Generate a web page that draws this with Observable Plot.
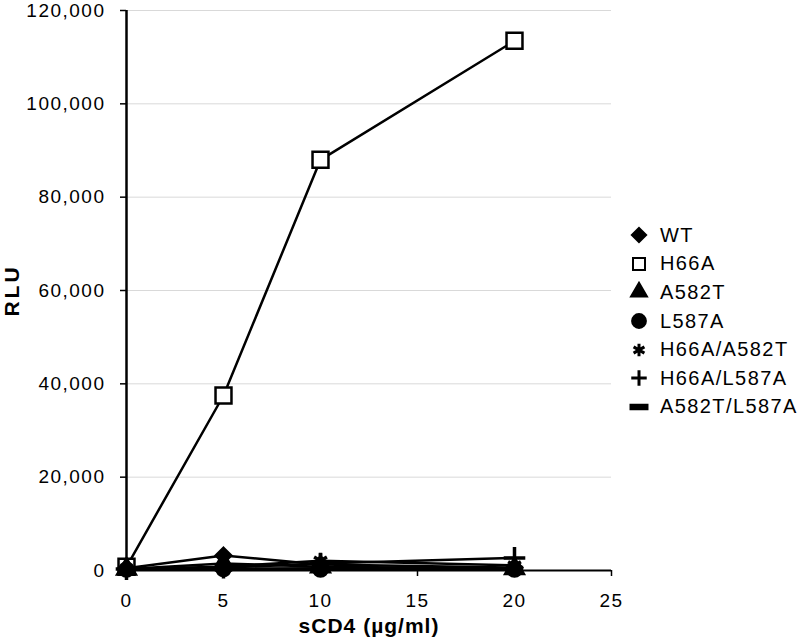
<!DOCTYPE html>
<html><head><meta charset="utf-8">
<script src="https://cdn.jsdelivr.net/npm/d3@7"></script>
<script src="https://cdn.jsdelivr.net/npm/@observablehq/plot@0.6"></script>
<style>
body{margin:0;background:#fff;font-family:"Liberation Sans",Arial,sans-serif;}
#wrap{position:relative;width:800px;height:641px;}
#legend{position:absolute;left:628px;top:221px;font-size:20px;letter-spacing:1.4px;color:#000;}
#legend .row{height:28.6px;display:flex;align-items:center;}
#legend svg{margin-right:10px;}
.tl text{letter-spacing:1.5px;}
.ttl text{letter-spacing:1px;}
.rlu text{letter-spacing:3px;}
</style></head>
<body><div id="wrap"><div id="chart"></div><div id="legend"></div></div>
<script>
const doses = [0, 5, 10, 20];
const seriesNames = ["WT","H66A","A582T","L587A","H66A/A582T","H66A/L587A","A582T/L587A"];
const WT = [500, 3200, 1300, 600];
const H66A = [800, 37500, 88000, 113500];
const A582T = [300, 1500, 800, 400];
const L587A = [200, 300, 200, 200];
const H66A_A582T = [400, 800, 2100, 1100];
const H66A_L587A = [300, 600, 1500, 2700];
const A582T_L587A = [200, 400, 500, 300];
const yTicks = [0, 20000, 40000, 60000, 80000, 100000, 120000];
const xTicks = [0, 5, 10, 15, 20, 25];

const valuesBySeries = [WT, H66A, A582T, L587A, H66A_A582T, H66A_L587A, A582T_L587A];
const data = seriesNames.flatMap((s, i) => doses.map((d, j) => ({series: s, dose: d, rlu: valuesBySeries[i][j]})));

const dash = {draw(ctx, size){ const w = Math.sqrt(size)*0.6, h = Math.sqrt(size)*0.16; ctx.rect(-w, -h, 2*w, 2*h); }};
const symbolSpec = {
  "WT": {symbol: "diamond2", fill: "black", stroke: "black", r: 7, ls: 130, sw: 2},
  "H66A": {symbol: "square", fill: "white", stroke: "black", r: 9, ls: 144, sw: 2},
  "A582T": {symbol: "triangle", fill: "black", stroke: "black", r: 7, ls: 110, sw: 2},
  "L587A": {symbol: "circle", fill: "black", stroke: "black", r: 7, ls: 150, sw: 2},
  "H66A/A582T": {symbol: "asterisk", fill: "none", stroke: "black", r: 7, ls: 110, sw: 3},
  "H66A/L587A": {symbol: "plus", fill: "none", stroke: "black", r: 7, ls: 80, sw: 3},
  "A582T/L587A": {symbol: dash, fill: "black", stroke: "black", r: 7, ls: 200, sw: 2}
};
const fmt = d3.format(",");

const dotMarks = seriesNames.map(s => Plot.dot(data.filter(d => d.series === s), {
  x: "dose", y: "rlu", symbol: () => symbolSpec[s].symbol, r: symbolSpec[s].r,
  fill: symbolSpec[s].fill, stroke: symbolSpec[s].stroke, strokeWidth: symbolSpec[s].sw + 0.5
}));

const chart = Plot.plot({
  width: 800, height: 641,
  marginLeft: 126, marginRight: 189, marginTop: 10, marginBottom: 71,
  style: {fontFamily: "'Liberation Sans', Arial, sans-serif", fontSize: "19px", background: "white"},
  x: {domain: [0, 25], ticks: xTicks, label: null},
  y: {domain: [0, 120000], ticks: yTicks, label: null},
  symbol: {type: "identity"},
  marks: [
    Plot.gridY(yTicks.slice(1), {stroke: "#d9d9d9", strokeOpacity: 1, strokeWidth: 1}),
    Plot.axisY(yTicks, {tickSize: 6, tickPadding: 15, tickFormat: fmt, fontSize: 19, stroke: "black", strokeWidth: 1.5, className: "tl"}),
    Plot.axisX(xTicks, {tickSize: 6, tickPadding: 17, fontSize: 19, stroke: "black", strokeWidth: 1.5, className: "tl"}),
    Plot.ruleY([0], {stroke: "black", strokeWidth: 2}),
    Plot.ruleX([0], {stroke: "black", strokeWidth: 2.5}),
    Plot.line(data, {x: "dose", y: "rlu", z: "series", stroke: "black", strokeWidth: 2.5}),
    ...dotMarks,
    Plot.text(["sCD4 (µg/ml)"], {frameAnchor: "bottom", textAnchor: "middle", lineAnchor: "middle", dy: 56, fontWeight: "bold", fontSize: 21, className: "ttl"}),
    Plot.text(["RLU"], {frameAnchor: "left", textAnchor: "middle", lineAnchor: "middle", dx: -114, rotate: -90, fontWeight: "bold", fontSize: 21, className: "rlu"})
  ]
});
document.getElementById("chart").appendChild(chart);

const legend = d3.select("#legend");
const map = {diamond2: d3.symbolDiamond2, square: d3.symbolSquare, triangle: d3.symbolTriangle, circle: d3.symbolCircle, asterisk: d3.symbolAsterisk, plus: d3.symbolPlus};
seriesNames.forEach(s => {
  const spec = symbolSpec[s];
  const row = legend.append("div").attr("class", "row");
  const svg = row.append("svg").attr("width", 22).attr("height", 22);
  const type = typeof spec.symbol === "string" ? map[spec.symbol] : spec.symbol;
  svg.append("path").attr("transform", "translate(11,11)")
    .attr("d", d3.symbol(type, spec.ls)())
    .attr("fill", spec.fill).attr("stroke", spec.stroke).attr("stroke-width", spec.sw);
  row.append("span").text(s);
});
</script></body></html>
